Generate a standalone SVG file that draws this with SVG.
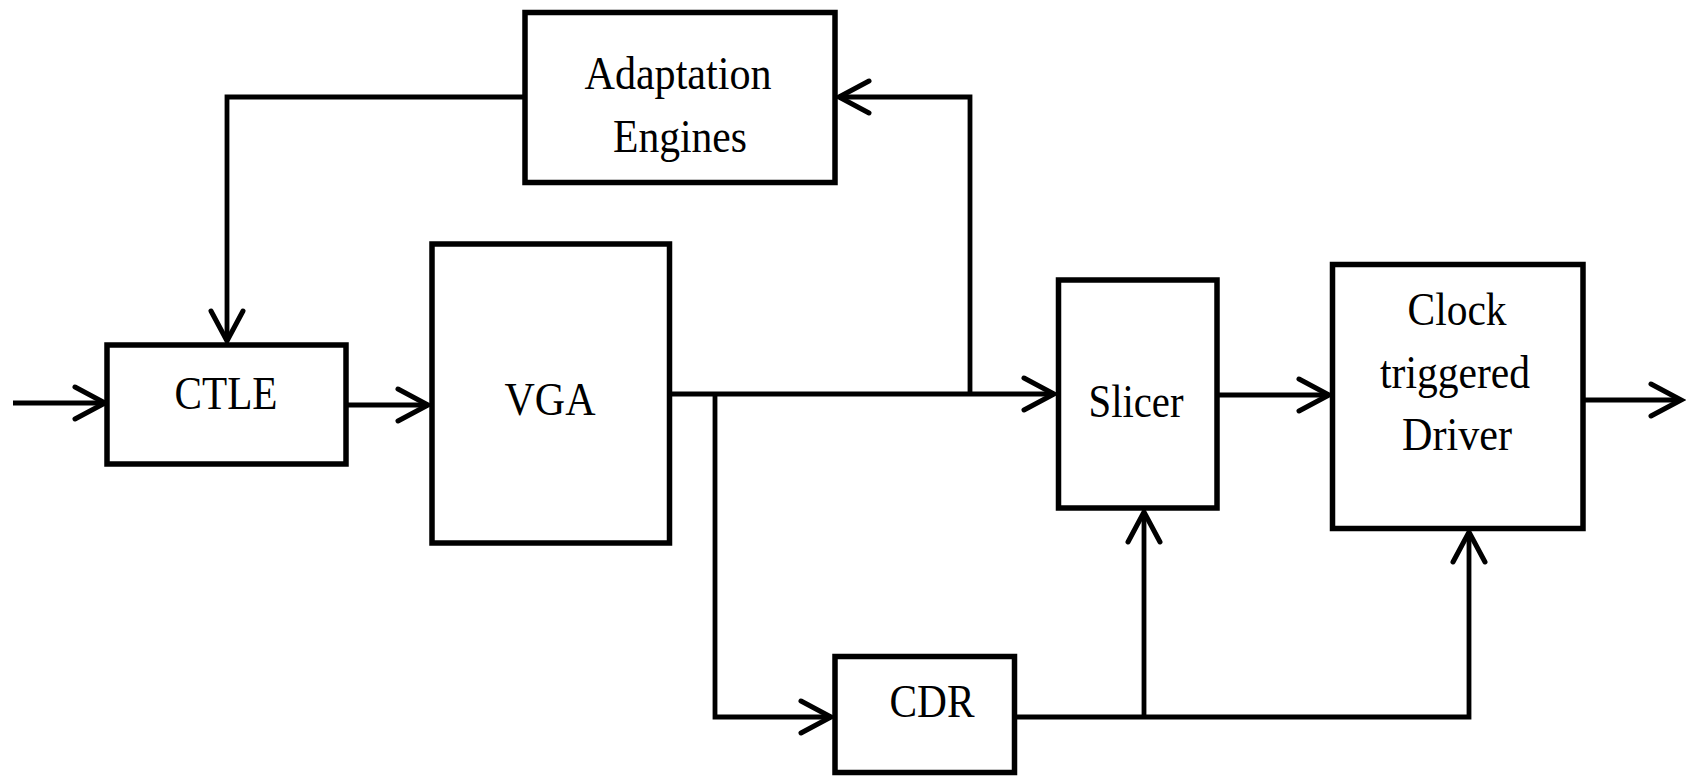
<svg xmlns="http://www.w3.org/2000/svg" width="1686" height="777" viewBox="0 0 1686 777">
  <style>
    .box { fill: #ffffff; stroke: #000000; stroke-width: 5.5; }
    .wire { fill: none; stroke: #000000; stroke-width: 4.8; stroke-linejoin: miter; }
    .lbl { font-family: "Liberation Serif", "Times New Roman", serif; font-size: 46px; fill: #000000; text-anchor: middle; }
  </style>
  <defs>
    <!-- open chevron arrowhead -->
    <marker id="arrow" markerUnits="userSpaceOnUse" markerWidth="40" markerHeight="40" viewBox="-34 -20 40 40" refX="0" refY="0" orient="auto" overflow="visible">
      <path d="M -30 -16 L 0 0 L -30 16" fill="none" stroke="#000000" stroke-width="5" stroke-linecap="round" stroke-linejoin="miter"/>
    </marker>
  </defs>

  <rect width="1686" height="777" fill="#ffffff"/>

  <g id="connectors">
    <!-- input into CTLE -->
    <path class="wire" d="M 13 403 L 105 403" marker-end="url(#arrow)"/>
    <!-- CTLE to VGA -->
    <path class="wire" d="M 347 405 L 428 405" marker-end="url(#arrow)"/>
    <!-- VGA to Slicer -->
    <path class="wire" d="M 670 394 L 1054 394" marker-end="url(#arrow)"/>
    <!-- tap to Adaptation Engines -->
    <path class="wire" d="M 970 394 L 970 97 L 839 97" marker-end="url(#arrow)"/>
    <!-- Adaptation Engines back to CTLE -->
    <path class="wire" d="M 525 97 L 227 97 L 227 341" marker-end="url(#arrow)"/>
    <!-- tap to CDR -->
    <path class="wire" d="M 715 394 L 715 717 L 831 717" marker-end="url(#arrow)"/>
    <!-- Slicer to Clock triggered Driver -->
    <path class="wire" d="M 1219 395 L 1329 395" marker-end="url(#arrow)"/>
    <!-- output -->
    <path class="wire" d="M 1583 400 L 1681 400" marker-end="url(#arrow)"/>
    <!-- CDR clock to Driver -->
    <path class="wire" d="M 1014 717 L 1469 717 L 1469 532" marker-end="url(#arrow)"/>
    <!-- CDR clock to Slicer -->
    <path class="wire" d="M 1144 717 L 1144 512" marker-end="url(#arrow)"/>
  </g>

  <g id="adaptation">
    <rect class="box" x="525" y="12.5" width="310" height="170"/>
    <text class="lbl" x="678" y="89" textLength="187" lengthAdjust="spacingAndGlyphs">Adaptation</text>
    <text class="lbl" x="680" y="152" textLength="134" lengthAdjust="spacingAndGlyphs">Engines</text>
  </g>

  <g id="ctle">
    <rect class="box" x="107" y="345" width="239" height="119"/>
    <text class="lbl" x="226" y="409" textLength="103" lengthAdjust="spacingAndGlyphs">CTLE</text>
  </g>

  <g id="vga">
    <rect class="box" x="432" y="244" width="237.5" height="299"/>
    <text class="lbl" x="550" y="415" textLength="91" lengthAdjust="spacingAndGlyphs">VGA</text>
  </g>

  <g id="slicer">
    <rect class="box" x="1058.5" y="280" width="158.5" height="228"/>
    <text class="lbl" x="1136" y="417" textLength="95" lengthAdjust="spacingAndGlyphs">Slicer</text>
  </g>

  <g id="driver">
    <rect class="box" x="1332.5" y="264.5" width="250.5" height="264"/>
    <text class="lbl" x="1457" y="325" textLength="99" lengthAdjust="spacingAndGlyphs">Clock</text>
    <text class="lbl" x="1455" y="388" textLength="150" lengthAdjust="spacingAndGlyphs">triggered</text>
    <text class="lbl" x="1457" y="450" textLength="110" lengthAdjust="spacingAndGlyphs">Driver</text>
  </g>

  <g id="cdr">
    <rect class="box" x="835" y="656.5" width="179.5" height="116"/>
    <text class="lbl" x="932" y="717" textLength="85" lengthAdjust="spacingAndGlyphs">CDR</text>
  </g>
</svg>
